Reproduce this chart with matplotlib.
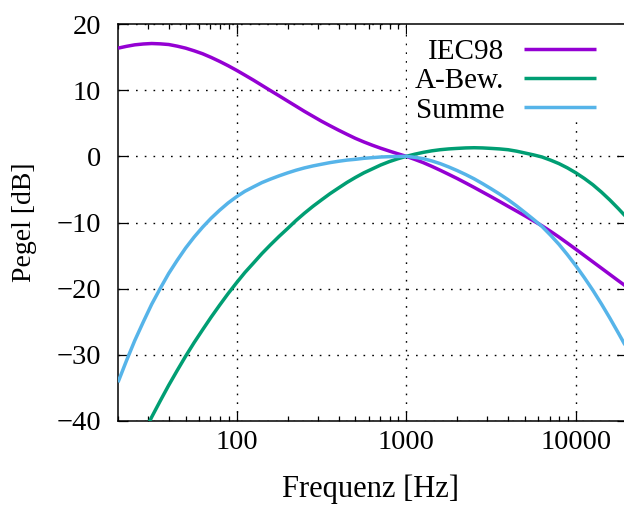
import matplotlib
matplotlib.use("Agg")
import matplotlib.pyplot as plt
from matplotlib.patches import Rectangle
from matplotlib.ticker import LogLocator, FixedLocator, NullFormatter, FixedFormatter

plt.rcParams['font.family'] = ['Liberation Serif', 'DejaVu Serif']
plt.rcParams['font.size'] = 20.5

freq = [20, 22.4, 25.1, 28.2, 31.6, 35.5, 39.8, 44.7, 50.1, 56.2, 63.1, 70.8, 79.4,
        89.1, 100, 112, 126, 141, 158, 178, 200, 224, 251, 282, 316, 355, 398,
        447, 501, 562, 631, 708, 794, 891, 1000, 1122, 1259, 1413, 1585, 1778,
        1995, 2239, 2512, 2818, 3162, 3548, 3981, 4467, 5012, 5623, 6310, 7079,
        7943, 8913, 10000, 11220, 12590, 14130, 15850, 17780, 20000]

iec98 = [16.35, 16.62, 16.85, 16.98, 17.05, 17.0, 16.9, 16.65, 16.35, 15.95, 15.5,
         14.95, 14.35, 13.7, 13.0, 12.27, 11.5, 10.73, 9.95, 9.15, 8.35, 7.58, 6.8,
         6.05, 5.32, 4.63, 3.97, 3.33, 2.72, 2.18, 1.68, 1.22, 0.8, 0.39, 0.0, -0.46,
         -0.95, -1.51, -2.1, -2.72, -3.35, -4.02, -4.7, -5.4, -6.1, -6.82, -7.55,
         -8.27, -9.0, -9.75, -10.5, -11.33, -12.2, -13.12, -14.05, -15.0, -15.95,
         -16.9, -17.85, -18.8, -19.75]

a_bew = [-50.5, -47.55, -44.7, -42.0, -39.4, -36.95, -34.6, -32.35, -30.2, -28.15,
         -26.2, -24.3, -22.5, -20.75, -19.1, -17.55, -16.1, -14.7, -13.4, -12.1,
         -10.9, -9.7, -8.6, -7.55, -6.6, -5.65, -4.8, -3.95, -3.2, -2.5, -1.9,
         -1.3, -0.8, -0.37, 0.0, 0.32, 0.6, 0.83, 1.0, 1.12, 1.2, 1.27, 1.3, 1.27,
         1.2, 1.12, 1.0, 0.78, 0.5, 0.22, -0.1, -0.57, -1.1, -1.75, -2.5, -3.35,
         -4.3, -5.4, -6.6, -7.9, -9.3]

summe = [-34.15, -30.93, -27.85, -25.02, -22.35, -19.95, -17.7, -15.7, -13.85, -12.2,
         -10.7, -9.35, -8.15, -7.05, -6.1, -5.28, -4.6, -3.97, -3.45, -2.95, -2.5,
         -2.1, -1.75, -1.45, -1.2, -0.95, -0.75, -0.57, -0.45, -0.3, -0.2, -0.1,
         -0.05, -0.02, 0.0, -0.15, -0.35, -0.69, -1.1, -1.6, -2.15, -2.75, -3.4,
         -4.13, -4.9, -5.7, -6.55, -7.49, -8.5, -9.53, -10.6, -11.9, -13.3, -14.87,
         -16.55, -18.35, -20.25, -22.3, -24.45, -26.7, -29.05]

series_names = ["IEC98", "A-Bew.", "Summe"]
colors = ["#9400d3", "#009e73", "#56b4e9"]

x_major = [100, 1000, 10000]
x_major_labels = ["100", "1000", "10000"]
y_major = [-40, -30, -20, -10, 0, 10, 20]
y_major_labels = ["\u221240", "\u221230", "\u221220", "\u221210", "0", "10", "20"]

W, H = 624, 507
fig = plt.figure(figsize=(W / 100, H / 100), dpi=100)
ax = fig.add_axes([118 / W, (H - 421) / H, (627 - 118) / W, (421 - 24) / H])

for vals, name, c in zip([iec98, a_bew, summe], series_names, colors):
    ax.plot(freq, vals, color=c, lw=2.5, label=name, zorder=3,
            solid_joinstyle='round', solid_capstyle='butt')

ax.set_xscale('log')
ax.set_xlim(20, 20000)
ax.set_ylim(-40, 20)

ax.xaxis.set_major_locator(FixedLocator(x_major))
ax.xaxis.set_major_formatter(FixedFormatter(x_major_labels))
ax.xaxis.set_minor_locator(LogLocator(base=10, subs=range(2, 10), numticks=20))
ax.xaxis.set_minor_formatter(NullFormatter())
ax.yaxis.set_major_locator(FixedLocator(y_major))
ax.yaxis.set_major_formatter(FixedFormatter(y_major_labels))

ax.tick_params(which='both', direction='in', top=True, right=True, width=0.9, color='black')
ax.tick_params(which='major', length=7.5)
ax.tick_params(which='minor', length=3.5)
ax.tick_params(axis='x', which='major', pad=6.5)
ax.tick_params(axis='y', which='major', pad=12)

for s in ax.spines.values():
    s.set_linewidth(1.1)

ax.set_axisbelow(True)
ax.grid(True, which='major', color='black', lw=1.0, linestyle=(0, (1.2, 5.1)))

# opaque key background
ax.add_patch(Rectangle((0.568, 0.766), 0.44, 0.24, transform=ax.transAxes,
                       facecolor='white', edgecolor='none', zorder=1, clip_on=True))

ax.set_xlabel("Frequenz [Hz]", fontsize=22)
ax.set_ylabel("Pegel [dB]", fontsize=20)
ax.xaxis.set_label_coords((370 - 118) / 509, (421 - 474) / 397)
ax.yaxis.set_label_coords((37 - 118) / 509, (421 - 222) / 397)

leg = ax.legend(loc='upper right', bbox_to_anchor=(611 / W, 1 - 24 / H),
                bbox_transform=fig.transFigure, frameon=False, markerfirst=False,
                borderpad=0, handlelength=2.5, handletextpad=0.65, labelspacing=0.1,
                fontsize=21)
for t in leg.get_texts():
    t.set_ha('right')

fig.savefig("out.png", dpi=100)
